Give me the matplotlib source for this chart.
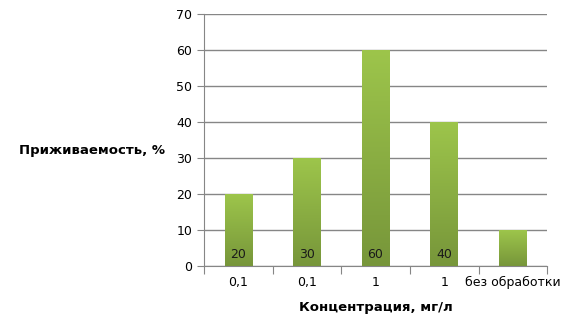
import numpy as np
import matplotlib
matplotlib.use("Agg")
import matplotlib.pyplot as plt
from matplotlib.colors import LinearSegmentedColormap

# Данные
categories = ["0,1", "0,1", "1", "1", "без обработки"]
values = [20, 30, 60, 40, 10]
bar_labels = ["20", "30", "60", "40", ""]

plt.rcParams['font.family'] = ['DejaVu Sans']

fig = plt.figure(figsize=(5.76, 3.36), dpi=100)
ax = fig.add_axes([0.354, 0.208, 0.596, 0.75])

x = np.arange(len(categories))
bars = ax.bar(x, values, width=0.4, color="none", edgecolor="none", zorder=3)

# градиент: светлый сверху, тёмный снизу
cmap = LinearSegmentedColormap.from_list("g", ["#77963a", "#9dc54b"])
grad = np.linspace(0, 1, 256).reshape(-1, 1)
for b in bars:
    x0, y0 = b.get_x(), b.get_y()
    w, h = b.get_width(), b.get_height()
    im = ax.imshow(grad, cmap=cmap, origin="lower", aspect="auto",
                   extent=[x0, x0 + w, y0, y0 + h], zorder=3)
    im.set_clip_path(b)

for xi, lab in zip(x, bar_labels):
    if lab:
        ax.text(xi, 3.2, lab, ha="center", va="center", fontsize=9,
                color="#1a1a1a", zorder=4)

ax.set_xlim(-0.5, len(categories) - 0.5)
ax.set_ylim(0, 70)
ax.set_yticks(range(0, 71, 10))
ax.yaxis.grid(True, color="#868686", linewidth=1)
ax.set_axisbelow(True)

# деления оси X между категориями
ax.set_xticks(np.arange(-0.5, len(categories), 1))
ax.set_xticklabels([])
ax.set_xticks(x, minor=True)
ax.set_xticklabels(categories, minor=True, fontsize=9)
ax.tick_params(axis="x", which="minor", length=0, pad=7)
ax.tick_params(axis="x", which="major", length=6, color="#868686")
ax.tick_params(axis="y", length=5, color="#868686", labelsize=9)

for s in ["top", "right"]:
    ax.spines[s].set_visible(False)
for s in ["left", "bottom"]:
    ax.spines[s].set_color("#868686")

ax.set_xlabel("Концентрация, мг/л", fontsize=9.5, fontweight="bold", labelpad=9)
ax.set_ylabel("Приживаемость, %", fontsize=9.5, fontweight="bold",
              rotation=0, ha="right", va="center")
ax.yaxis.set_label_coords(-0.114, 0.46)

fig.savefig("out.png", dpi=100)
